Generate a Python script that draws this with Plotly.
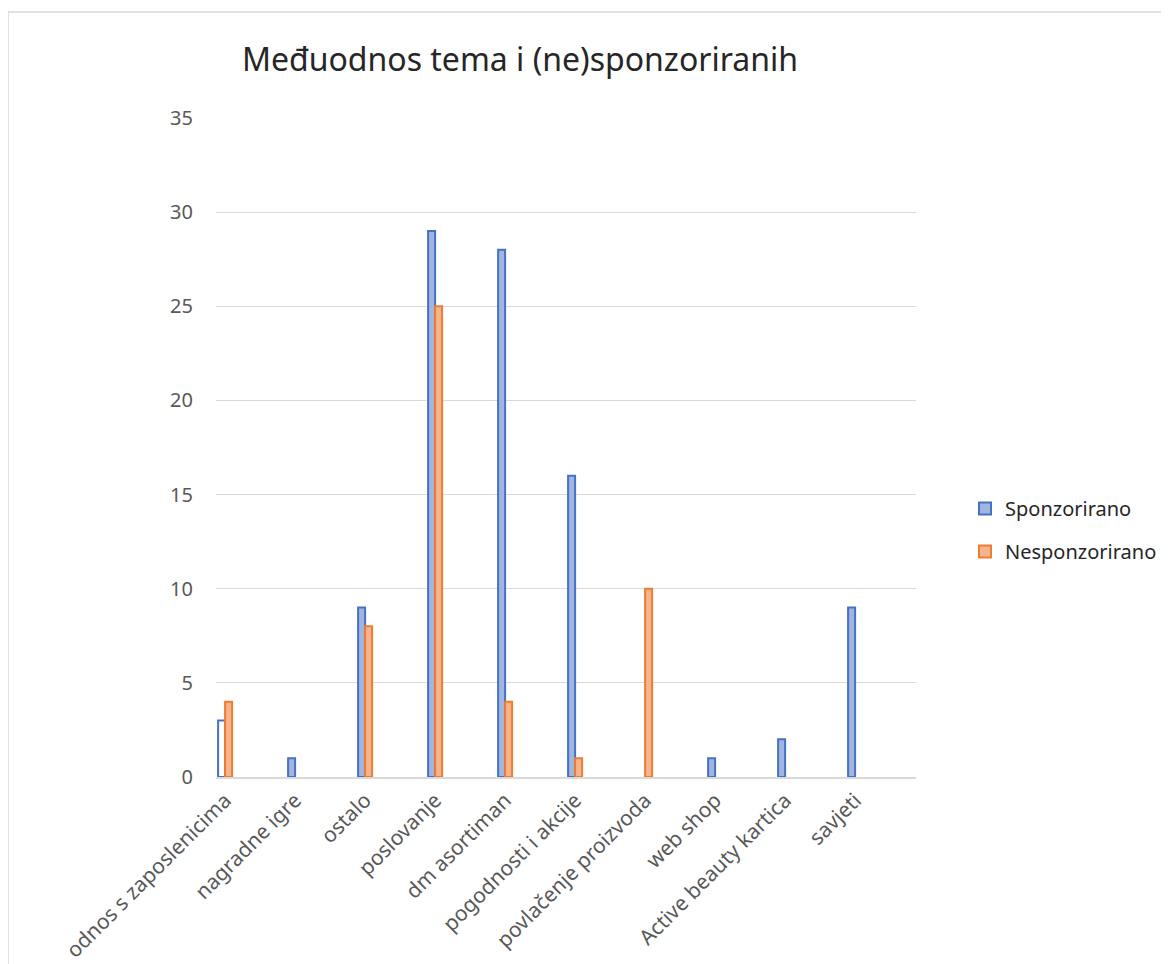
import plotly.graph_objects as go

categories = ["odnos s zaposlenicima", "nagradne igre", "ostalo", "poslovanje",
              "dm asortiman", "pogodnosti i akcije", "povlačenje proizvoda",
              "web shop", "Active beauty kartica", "savjeti"]
sponzorirano = [3, 1, 9, 29, 28, 16, 0, 1, 2, 9]
nesponzorirano = [4, 0, 8, 25, 4, 1, 10, 0, 0, 0]
y_ticks = [0, 5, 10, 15, 20, 25, 30, 35]

BLUE_LINE = "#4472C4"
BLUE_FILL = "#A2B4E0"
ORANGE_LINE = "#ED7D31"
ORANGE_FILL = "#F5B38E"
FONT = "Noto Sans"

blue_fills = [BLUE_FILL] * len(categories)
blue_fills[0] = "#FFFFFF"

OFF = 8  # page body margin
W, H = 1169, 964
# target pixel positions in the screenshot
L, R, T, B = 216, 916, 118, 777

def nz(vals):
    return [v if v else None for v in vals]

fig = go.Figure()
fig.add_trace(go.Bar(
    x=categories, y=nz(sponzorirano), name="Sponzorirano",
    marker=dict(color=blue_fills, line=dict(color=BLUE_LINE, width=2)),
    offsetgroup="a", showlegend=False,
))
fig.add_trace(go.Bar(
    x=[categories[0]], y=[None], name="Sponzorirano",
    marker=dict(color=BLUE_FILL, line=dict(color=BLUE_LINE, width=2)),
    offsetgroup="a", legendgroup="a", showlegend=True,
))
fig.add_trace(go.Bar(
    x=categories, y=nz(nesponzorirano), name="Nesponzorirano",
    marker=dict(color=ORANGE_FILL, line=dict(color=ORANGE_LINE, width=2)),
    offsetgroup="b", legendgroup="b",
))

pw, ph = R - L, B - T
def px(x):
    return (x - L) / pw
def py(y):
    return (B - y) / ph

fig.update_layout(
    width=W, height=H,
    margin=dict(l=L - OFF, r=W - R + OFF, t=T - OFF, b=H - B + OFF,
                autoexpand=False),
    paper_bgcolor="white", plot_bgcolor="white",
    barmode="group", bargap=0.8, bargroupgap=0,
    font=dict(family=FONT, color="#595959"),
    title=dict(text="Međuodnos tema i (ne)sponzoriranih",
               x=px(520), xref="paper", xanchor="center",
               y=1 - (60 - OFF) / H, yref="container", yanchor="middle",
               font=dict(family=FONT, size=32, color="#262626")),
    xaxis=dict(type="category", range=[-0.13, 9.87], tickangle=-45,
               tickfont=dict(family=FONT, size=21, color="#595959"),
               showline=True, linecolor="#D9D9D9", linewidth=1.5,
               showgrid=False, ticks="", ticklen=0, ticklabelstandoff=1,
               automargin=False, fixedrange=True),
    yaxis=dict(range=[0, 35], tickvals=y_ticks, showgrid=True,
               gridcolor="#D9D9D9", gridwidth=1, zeroline=False,
               showline=False, ticks="", ticklabelstandoff=22,
               automargin=False,
               tickfont=dict(family=FONT, size=20, color="#595959")),
    legend=dict(x=px(965), xanchor="left", y=py(530), yanchor="middle",
                font=dict(family=FONT, size=20, color="#262626"),
                tracegroupgap=14, itemwidth=30, bgcolor="rgba(0,0,0,0)"),
    showlegend=True,
)

fig.add_shape(type="rect", xref="paper", yref="paper",
              x0=px(8), x1=px(1190), y0=py(12), y1=py(1000),
              line=dict(color="#D9D9D9", width=1.5), fillcolor="rgba(0,0,0,0)",
              layer="below")

fig.write_html("out.html")
